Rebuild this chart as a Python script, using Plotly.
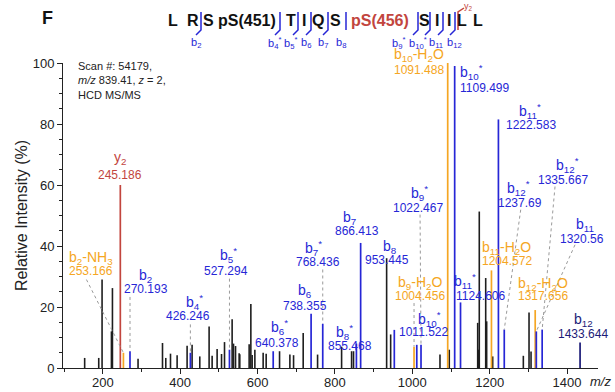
import plotly.graph_objects as go

FONT = "Arial, Liberation Sans, Helvetica, sans-serif"
BLUE = "#2626d6"
ORANGE = "#f5a623"
RED = "#c2453e"
NAVY = "#1b1b78"
BLACK = "#1e1e1e"
GREY = "#9a9a9a"

# ---------------- data ----------------
# unassigned (black) peaks
black_mz = [153, 189.4, 198, 222.2, 224.8, 291, 354.2, 362.7, 374.9, 392, 417.8, 430.7,
            450.6, 474.7, 482.5, 495.4, 506.8, 514.5, 534.2, 537.8, 543, 552.3, 554,
            578.2, 582.6, 586, 593, 614.4, 622.2, 656.8, 683.5, 693, 717.9, 755.1,
            817.2, 843, 848, 933.6, 944, 1071.5, 1095.5, 1169, 1171, 1173.1, 1189.7,
            1192.2, 1207.8, 1287, 1301.7, 1306.9]
black_int = [3.3, 3.3, 29, 12, 26.2, 3, 8.2, 3.3, 4.7, 4.2, 7.3, 7.6,
             3.8, 13.6, 4, 6.2, 4.6, 8.5, 16, 8, 7.2, 4.8, 4.5,
             7.8, 21, 4.3, 6, 5, 4.7, 5.5, 4.4, 4.2, 11.5, 4.4,
             7, 5.5, 5.5, 36, 11, 4.4, 6, 14.8, 6, 51.3, 29.5,
             15.3, 3.8, 4, 18.2, 5.4]

# assigned fragment ions
ion_names = ["y<sub>2</sub>", "b<sub>2</sub>-NH<sub>3</sub>", "b<sub>2</sub>", "b<sub>4</sub><sup>*</sup>",
             "b<sub>5</sub><sup>*</sup>", "b<sub>6</sub><sup>*</sup>", "b<sub>6</sub>", "b<sub>7</sub><sup>*</sup>",
             "b<sub>8</sub><sup>*</sup>", "b<sub>7</sub>", "b<sub>8</sub>", "b<sub>9</sub>-H<sub>2</sub>O",
             "b<sub>10</sub><sup>*</sup>", "b<sub>9</sub><sup>*</sup>", "b<sub>10</sub>-H<sub>2</sub>O",
             "b<sub>10</sub><sup>*</sup>", "b<sub>11</sub><sup>*</sup>", "b<sub>11</sub>-H<sub>2</sub>O",
             "b<sub>11</sub><sup>*</sup>", "b<sub>12</sub><sup>*</sup>", "b<sub>12</sub>-H<sub>2</sub>O",
             "b<sub>11</sub>", "b<sub>12</sub><sup>*</sup>", "b<sub>12</sub>"]
ion_mz = [245.186, 253.166, 270.193, 426.246, 527.294, 640.378, 738.355, 768.436,
          855.468, 866.413, 953.445, 1004.456, 1011.522, 1022.467, 1091.488,
          1109.499, 1124.606, 1204.572, 1222.583, 1237.69, 1317.656, 1320.56,
          1335.667, 1433.644]
ion_int = [60, 5, 5.5, 5, 6, 5.5, 17.8, 14.5, 8, 41, 12.5, 7, 7.6, 7.6, 100,
           99, 21.5, 32, 81.5, 12.6, 19, 12, 12.6, 8.4]
ion_kind = ["y", "loss", "b", "b", "b", "b", "b", "b", "b", "b", "b", "loss", "b", "b", "loss",
            "b", "b", "loss", "b", "b", "loss", "b", "b", "bdark"]

x_range = [97, 1480]
y_range = [0, 100]

peptide = ["L", "R", "S", "pS(451)", "T", "I", "Q", "S", "pS(456)", "S", "I", "I", "L", "L"]
frag_labels = ["b<sub>2</sub>", "b<sub>4</sub><sup>*</sup>", "b<sub>5</sub><sup>*</sup>", "b<sub>6</sub>",
               "b<sub>7</sub>", "b<sub>8</sub>", "b<sub>9</sub><sup>*</sup>", "b<sub>10</sub><sup>*</sup>",
               "b<sub>11</sub>", "b<sub>12</sub>"]

# ---------------- styling / layout positions ----------------
KIND_COLOR = {"y": RED, "loss": ORANGE, "b": BLUE, "bdark": NAVY}

# label layout per ion: (name_x, name_y, num_x, num_y, xanchor, xshift, leader_start or None)
# None for x means "at the peak position"
label_pos = [
    (243.7, 68.9, 243.7, 63.4, "center", 0, None),
    (170.5, 36.1, 170.5, 31.7, "center", 0, (157.6, 29.0)),
    (311, 30.3, 311, 25.9, "center", 0, (270.193, 23.3)),
    (437.7, 21.8, 420.4, 16.9, "center", 0, (426.246, 14.3)),
    (523.9, 37.1, 518, 31.7, "center", 0, (527.294, 29.3)),
    (657.6, 13.6, 649, 8.2, "center", 0, None),
    (722.2, 25.1, 722.2, 20.4, "center", 0, None),
    (743.7, 39.3, 756.7, 34.6, "center", 0, (768.436, 32.3)),
    (825.7, 11.7, 838.6, 7.1, "center", 0, None),
    (838.6, 49.2, 856, 44.8, "center", 0, None),
    (942.1, 39.7, 933.6, 35.3, "center", 0, None),
    (1019.7, 27.9, 1019.7, 23.5, "center", 0, (1004.456, 21.3)),
    (1045.6, 16.1, 1028.3, 11.7, "center", 0, None),
    (1019.7, 57.4, 1015.3, 52.5, "center", 0, (1020.0, 50.3)),
    (None, 102.6, None, 97.6, "right", -2, None),
    (None, 97.2, None, 91.8, "left", 3, None),
    (1136, 28.4, 1175, 23.5, "center", 0, None),
    (1244, 39.3, 1244, 35.0, "center", 0, None),
    (1304.4, 84.1, 1306.9, 79.8, "center", 0, None),
    (1274, 59.0, 1278.4, 54.1, "center", 0, (1280.2, 51.9)),
    (1338.6, 27.6, 1338.6, 23.5, "center", 0, None),
    (1446.5, 47.0, 1438.0, 42.3, "center", 0, (1420.6, 40.4)),
    (1400.7, 66.7, 1390.4, 61.5, "center", 0, (1368.9, 59.5)),
    (1442, 15.6, 1442, 11.2, "center", 0, None),
]

W, H = 615, 392
ML, MR, MT, MB = 63, 17, 63, 24
PW, PH = W - ML - MR, H - MT - MB


def px(x):
    # screen pixel x -> paper coordinate
    return (x - ML) / PW


def py(y):
    # screen pixel y -> paper coordinate
    return (H - MB - y) / PH


def dx(m):
    return (m - x_range[0]) / (x_range[1] - x_range[0])


def dy(v):
    return (v - y_range[0]) / (y_range[1] - y_range[0])


def stems(xs, ys):
    X, Y = [], []
    for x, y in zip(xs, ys):
        X += [x, x, None]
        Y += [0, y, None]
    return X, Y


fig = go.Figure()

bx, by = stems(black_mz, black_int)
fig.add_trace(go.Scatter(x=bx, y=by, mode="lines", line=dict(color=BLACK, width=1.6),
                         hoverinfo="skip", showlegend=False))
for kind in ["loss", "b", "bdark", "y"]:
    xs = [m for m, k in zip(ion_mz, ion_kind) if k == kind]
    ys = [v for v, k in zip(ion_int, ion_kind) if k == kind]
    sx, sy = stems(xs, ys)
    fig.add_trace(go.Scatter(x=sx, y=sy, mode="lines",
                             line=dict(color=KIND_COLOR[kind], width=1.7),
                             hoverinfo="skip", showlegend=False))

annotations = []
shapes = []
for i, name in enumerate(ion_names):
    nx, ny, mx, my, anchor, xs, leader = label_pos[i]
    col = KIND_COLOR[ion_kind[i]]
    nx = ion_mz[i] if nx is None else nx
    mx = ion_mz[i] if mx is None else mx
    annotations.append(dict(x=dx(nx), y=dy(ny), xref="paper", yref="paper", text=name, showarrow=False,
                            xanchor=anchor, yanchor="middle", xshift=xs,
                            font=dict(family=FONT, size=14, color=col)))
    annotations.append(dict(x=dx(mx), y=dy(my), xref="paper", yref="paper", text=str(ion_mz[i]),
                            showarrow=False, xanchor=anchor, yanchor="middle", xshift=xs,
                            font=dict(family=FONT, size=12, color=col)))
    if leader is not None:
        shapes.append(dict(type="line", xref="x", yref="y", x0=leader[0], y0=leader[1],
                           x1=ion_mz[i], y1=ion_int[i],
                           line=dict(color=GREY, width=1, dash="dot")))

# scan info
annotations.append(dict(x=px(76), y=py(58), xref="paper", yref="paper", xanchor="left", yanchor="top",
                        align="left", showarrow=False,
                        text="Scan #: 54179,<br><i>m/z</i> 839.41, <i>z</i> = 2,<br>HCD MS/MS",
                        font=dict(family=FONT, size=11, color="#222")))
# m/z axis label
annotations.append(dict(x=px(600), y=py(381), xref="paper", yref="paper", xanchor="center", yanchor="middle",
                        showarrow=False, text="<i>m/z</i>", font=dict(family=FONT, size=13, color="#222")))
# panel letter
annotations.append(dict(x=px(47), y=py(18), xref="paper", yref="paper", xanchor="center", yanchor="middle",
                        showarrow=False, text="<b>F</b>", font=dict(family=FONT, size=18, color="#111")))

# peptide sequence
res_x = [173, 193, 208, 247, 291, 304, 318, 335, 380, 424, 437, 449, 462, 478]
for r, x in zip(peptide, res_x):
    col = RED if r == "pS(456)" else "#111"
    annotations.append(dict(x=px(x), y=py(21), xref="paper", yref="paper", xanchor="center",
                            yanchor="middle", showarrow=False, text="<b>" + r + "</b>",
                            font=dict(family=FONT, size=16, color=col)))

# fragmentation brackets
brk_x = [201, 280, 298, 311, 328, 346, 418, 430, 443, 455]
lab_x = [196, 274, 290, 306, 323, 341, 398, 418, 436, 454]
for j, (x, lx) in enumerate(zip(brk_x, lab_x)):
    if j == 5:
        path = f"M {px(x)},{py(12)} L {px(x)},{py(30)}"
    else:
        path = f"M {px(x)},{py(12)} L {px(x)},{py(30)} L {px(x - 5)},{py(35)}"
    shapes.append(dict(type="path", xref="paper", yref="paper", path=path,
                       line=dict(color=BLUE, width=1.5)))
    annotations.append(dict(x=px(lx), y=py(43), xref="paper", yref="paper", xanchor="center",
                            yanchor="middle", showarrow=False, text=frag_labels[j],
                            font=dict(family=FONT, size=11, color=BLUE)))
# y2 bracket
shapes.append(dict(type="path", xref="paper", yref="paper",
                   path=f"M {px(458)},{py(30)} L {px(458)},{py(12)} L {px(464)},{py(8)}",
                   line=dict(color=RED, width=1.5)))
annotations.append(dict(x=px(468), y=py(6), xref="paper", yref="paper", xanchor="center",
                        yanchor="middle", showarrow=False, text="y<sub>2</sub>",
                        font=dict(family=FONT, size=9, color=RED)))

fig.update_layout(
    width=W, height=H,
    margin=dict(l=ML, r=MR, t=MT, b=MB, autoexpand=False),
    paper_bgcolor="white", plot_bgcolor="white",
    font=dict(family=FONT, color="#222"),
    annotations=annotations, shapes=shapes,
    xaxis=dict(range=x_range, tick0=0, dtick=200, automargin=False,
               showline=True, linecolor="#222", linewidth=1, ticks="outside", ticklen=5,
               tickcolor="#222", tickfont=dict(size=13, family=FONT, color="#222"),
               ticklabelstandoff=-3,
               minor=dict(dtick=100, ticks="outside", ticklen=3, tickcolor="#222", showgrid=False),
               showgrid=False, zeroline=False),
    yaxis=dict(range=y_range, tick0=0, dtick=20, automargin=False,
               showline=True, linecolor="#222", linewidth=1, ticks="outside", ticklen=5,
               tickcolor="#222", tickfont=dict(size=13, family=FONT, color="#222"),
               minor=dict(dtick=5, ticks="outside", ticklen=3, tickcolor="#222", showgrid=False),
               title=dict(text="Relative Intensity (%)", font=dict(size=16, family=FONT, color="#222"),
                          standoff=1),
               showgrid=False, zeroline=False),
)

fig.write_html("out.html", config={"displayModeBar": False},
               post_script="document.body.style.margin='0';document.body.style.overflow='hidden';")
